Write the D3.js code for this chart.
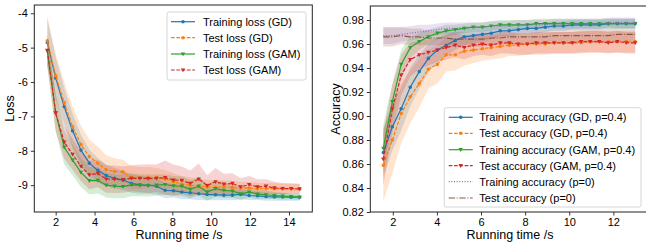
<!DOCTYPE html>
<html>
<head>
<meta charset="utf-8">
<script src="https://cdn.jsdelivr.net/npm/d3@7"></script>
<style>
  body { margin: 0; background: #fff; }
  svg { display: block; font-family: "Liberation Sans", Arial, sans-serif; }
</style>
</head>
<body>
<div id="chart"></div>
<script>
// ---- left panel: loss ----
var lossTime = [1.57, 2.00, 2.44, 2.87, 3.30, 3.73, 4.17, 4.60, 5.03, 5.46, 5.90, 6.33, 6.76, 7.19, 7.63, 8.06,
                8.49, 8.92, 9.36, 9.79, 10.22, 10.65, 11.09, 11.52, 11.95, 12.38, 12.82, 13.25, 13.68, 14.11, 14.55];
var trainLossGD  = [-4.85, -5.88, -6.72, -7.42, -7.98, -8.36, -8.57, -8.72, -8.80, -8.85, -8.95, -8.99, -9.00, -9.03, -9.15, -9.16,
                    -9.20, -9.22, -9.25, -9.27, -9.28, -9.29, -9.29, -9.27, -9.30, -9.31, -9.33, -9.34, -9.34, -9.35, -9.35];
var testLossGD   = [-4.80, -5.82, -6.60, -7.30, -7.82, -8.17, -8.36, -8.55, -8.60, -8.62, -8.78, -8.79, -8.77, -8.78, -8.82, -8.90,
                    -8.97, -9.00, -9.03, -9.05, -9.07, -9.05, -9.07, -9.08, -9.08, -9.10, -9.10, -9.10, -9.10, -9.10, -9.11];
var trainLossGAM = [-5.10, -6.90, -7.90, -8.27, -8.63, -8.87, -8.86, -9.00, -9.03, -9.04, -8.99, -9.00, -9.01, -9.00, -8.98, -9.02,
                    -9.03, -9.12, -9.03, -9.20, -9.10, -9.15, -9.17, -9.25, -9.20, -9.26, -9.28, -9.30, -9.32, -9.33, -9.35];
var testLossGAM  = [-5.08, -6.90, -7.75, -8.10, -8.45, -8.70, -8.66, -8.82, -8.83, -8.84, -8.80, -8.80, -8.81, -8.80, -8.78, -8.85,
                    -8.86, -8.95, -8.82, -9.01, -8.90, -8.97, -8.95, -9.05, -8.98, -9.05, -9.03, -9.08, -9.10, -9.10, -9.11];
var trainLossGDStd  = [0.70, 0.60, 0.55, 0.50, 0.45, 0.40, 0.35, 0.32, 0.30, 0.28, 0.27, 0.26, 0.25, 0.24, 0.22, 0.20,
                       0.20, 0.19, 0.18, 0.17, 0.16, 0.15, 0.15, 0.14, 0.13, 0.12, 0.12, 0.11, 0.11, 0.10, 0.10];
var testLossGDStd   = [0.70, 0.65, 0.60, 0.58, 0.55, 0.50, 0.48, 0.42, 0.38, 0.36, 0.34, 0.32, 0.30, 0.28, 0.26, 0.25,
                       0.24, 0.23, 0.22, 0.21, 0.20, 0.20, 0.19, 0.18, 0.17, 0.17, 0.16, 0.16, 0.15, 0.15, 0.15];
var trainLossGAMStd = [0.45, 0.55, 0.50, 0.45, 0.42, 0.40, 0.38, 0.36, 0.35, 0.34, 0.33, 0.32, 0.32, 0.31, 0.30, 0.29,
                       0.28, 0.27, 0.26, 0.25, 0.24, 0.22, 0.20, 0.18, 0.16, 0.14, 0.12, 0.10, 0.10, 0.08, 0.08];
var testLossGAMStd  = [0.45, 0.50, 0.48, 0.45, 0.43, 0.42, 0.40, 0.40, 0.40, 0.38, 0.38, 0.40, 0.42, 0.40, 0.50, 0.45,
                       0.40, 0.38, 0.45, 0.30, 0.40, 0.30, 0.30, 0.25, 0.25, 0.22, 0.20, 0.18, 0.16, 0.15, 0.15];
var lossYTicks = [-4, -5, -6, -7, -8, -9];
var lossXTicks = [2, 4, 6, 8, 10, 12, 14];

// ---- right panel: accuracy ----
var accTime = [1.57, 1.98, 2.38, 2.79, 3.20, 3.61, 4.02, 4.42, 4.83, 5.24, 5.65, 6.06, 6.46, 6.87, 7.28, 7.69,
               8.10, 8.50, 8.91, 9.32, 9.73, 10.14, 10.54, 10.95, 11.36, 11.77, 12.18, 12.58, 12.99];
var trainAccGD  = [0.8695, 0.891, 0.906, 0.924, 0.937, 0.948, 0.955, 0.959, 0.963, 0.966, 0.967, 0.968, 0.969, 0.971, 0.971, 0.972,
                   0.973, 0.973, 0.974, 0.975, 0.975, 0.976, 0.976, 0.976, 0.976, 0.977, 0.977, 0.977, 0.977];
var testAccGD   = [0.859, 0.880, 0.902, 0.916, 0.927, 0.939, 0.943, 0.951, 0.951, 0.954, 0.955, 0.956, 0.957, 0.958, 0.959, 0.959,
                   0.960, 0.960, 0.960, 0.961, 0.961, 0.961, 0.961, 0.962, 0.962, 0.962, 0.962, 0.962, 0.962];
var trainAccGAM = [0.873, 0.912, 0.943, 0.957, 0.962, 0.966, 0.969, 0.971, 0.972, 0.973, 0.974, 0.974, 0.975, 0.976, 0.976, 0.976,
                   0.976, 0.977, 0.977, 0.977, 0.977, 0.977, 0.977, 0.977, 0.977, 0.977, 0.977, 0.977, 0.977];
var testAccGAM  = [0.864, 0.906, 0.934, 0.947, 0.951, 0.953, 0.955, 0.957, 0.959, 0.957, 0.959, 0.960, 0.959, 0.961, 0.961, 0.960,
                   0.960, 0.961, 0.961, 0.961, 0.961, 0.961, 0.962, 0.962, 0.962, 0.961, 0.962, 0.961, 0.961];
var trainAccP0  = [0.967, 0.967, 0.968, 0.969, 0.970, 0.971, 0.972, 0.973, 0.973, 0.974, 0.974, 0.974, 0.975, 0.975, 0.975, 0.976,
                   0.976, 0.976, 0.976, 0.977, 0.977, 0.977, 0.977, 0.977, 0.977, 0.978, 0.978, 0.978, 0.978];
var testAccP0   = [0.966, 0.966, 0.967, 0.966, 0.966, 0.965, 0.965, 0.965, 0.964, 0.964, 0.964, 0.964, 0.965, 0.965, 0.966, 0.966,
                   0.966, 0.966, 0.966, 0.967, 0.967, 0.967, 0.967, 0.967, 0.967, 0.967, 0.968, 0.968, 0.968];
var trainAccGDStd  = [0.020, 0.020, 0.018, 0.016, 0.014, 0.012, 0.010, 0.009, 0.008, 0.007, 0.006, 0.006, 0.005, 0.005, 0.005, 0.004,
                      0.004, 0.004, 0.004, 0.004, 0.004, 0.004, 0.004, 0.004, 0.004, 0.004, 0.004, 0.004, 0.004];
var testAccGDStd   = [0.030, 0.028, 0.025, 0.022, 0.020, 0.016, 0.016, 0.014, 0.013, 0.012, 0.011, 0.010, 0.010, 0.010, 0.009, 0.009,
                      0.009, 0.009, 0.009, 0.009, 0.009, 0.009, 0.009, 0.009, 0.009, 0.009, 0.009, 0.009, 0.009];
var trainAccGAMStd = [0.020, 0.015, 0.012, 0.009, 0.007, 0.006, 0.005, 0.005, 0.004, 0.004, 0.004, 0.004, 0.004, 0.004, 0.004, 0.004,
                      0.004, 0.004, 0.004, 0.004, 0.004, 0.004, 0.004, 0.004, 0.004, 0.004, 0.004, 0.004, 0.004];
var testAccGAMStd  = [0.022, 0.020, 0.017, 0.014, 0.012, 0.011, 0.010, 0.010, 0.010, 0.010, 0.009, 0.009, 0.009, 0.009, 0.009, 0.009,
                      0.009, 0.009, 0.009, 0.009, 0.009, 0.009, 0.009, 0.009, 0.009, 0.009, 0.009, 0.009, 0.009];
var trainAccP0Std  = [0.007, 0.007, 0.006, 0.006, 0.006, 0.005, 0.005, 0.005, 0.005, 0.004, 0.004, 0.004, 0.004, 0.004, 0.004, 0.004,
                      0.004, 0.004, 0.004, 0.004, 0.004, 0.004, 0.004, 0.004, 0.004, 0.004, 0.004, 0.004, 0.004];
var testAccP0Std   = [0.008, 0.008, 0.007, 0.007, 0.007, 0.006, 0.006, 0.006, 0.006, 0.006, 0.006, 0.006, 0.006, 0.006, 0.006, 0.006,
                      0.006, 0.006, 0.006, 0.006, 0.006, 0.006, 0.006, 0.006, 0.006, 0.006, 0.006, 0.006, 0.006];
var accYTicks = [0.82, 0.84, 0.86, 0.88, 0.90, 0.92, 0.94, 0.96, 0.98];
var accXTicks = [2, 4, 6, 8, 10, 12];

var blue = "#1f77b4", orange = "#ff7f0e", green = "#2ca02c", red = "#d62728",
    purple = "#9467bd", brown = "#8c564b";
var DASH = "3.7,1.6", DOT = "1,1.65", DASHDOT = "6.4,1.6,1,1.6";

var svg = d3.select("#chart").append("svg")
    .attr("width", 646).attr("height", 242);

var makePanel = function(opt) {
    var x = d3.scaleLinear().domain(opt.xDomain).range([opt.left, opt.right]);
    var y = d3.scaleLinear().domain(opt.yDomain).range([opt.bottom, opt.top]);
    var g = svg.append("g");

    // bands first
    opt.series.forEach(function(s) {
        var area = d3.area()
            .x(function(d, i) { return x(opt.time[i]); })
            .y0(function(d, i) { return y(d - s.std[i]); })
            .y1(function(d, i) { return y(d + s.std[i]); });
        g.append("path").datum(s.values)
            .attr("d", area)
            .attr("fill", s.color).attr("fill-opacity", 0.2);
    });

    opt.series.forEach(function(s) {
        var line = d3.line()
            .x(function(d, i) { return x(opt.time[i]); })
            .y(function(d) { return y(d); });
        g.append("path").datum(s.values)
            .attr("d", line)
            .attr("fill", "none").attr("stroke", s.color).attr("stroke-width", 1.2)
            .attr("stroke-dasharray", s.dash || null);
        if (s.marker) {
            g.selectAll(null).data(s.values).enter()
              .append("path")
                .attr("transform", function(d, i) { return "translate(" + x(opt.time[i]) + "," + y(d) + ")"; })
                .attr("d", markerPath(s.marker))
                .attr("fill", s.color);
        }
    });

    // axes
    var xAxis = g.append("g")
        .attr("transform", "translate(0," + opt.bottom + ")")
        .call(d3.axisBottom(x).tickValues(opt.xTicks).tickSizeOuter(0).tickSize(3.5).tickPadding(3));
    var yAxis = g.append("g")
        .attr("transform", "translate(" + opt.left + ",0)")
        .call(d3.axisLeft(y).tickValues(opt.yTicks).tickFormat(opt.yFormat).tickSizeOuter(0).tickSize(3.5).tickPadding(3));
    [xAxis, yAxis].forEach(function(a) {
        a.select(".domain").remove();
        a.selectAll("text").attr("font-size", 11).attr("fill", "#000")
            .attr("font-family", "Liberation Sans, Arial, sans-serif");
        a.selectAll("line").attr("stroke", "#000").attr("stroke-width", 0.8);
    });

    g.append("rect")
        .attr("x", opt.left).attr("y", opt.top)
        .attr("width", opt.right - opt.left).attr("height", opt.bottom - opt.top)
        .attr("fill", "none").attr("stroke", "#222").attr("stroke-width", 1);

    g.append("text")
        .attr("x", opt.xLabelX).attr("y", 239)
        .attr("text-anchor", "middle").attr("font-size", 12.5)
        .text("Running time /s");
    g.append("text")
        .attr("transform", "translate(" + opt.yLabelX + "," + ((opt.top + opt.bottom) / 2) + ") rotate(-90)")
        .attr("text-anchor", "middle").attr("font-size", 12.5)
        .text(opt.yLabel);

    // legend
    var L = opt.legend;
    var lg = g.append("g");
    lg.append("rect")
        .attr("x", L.x0).attr("y", L.y0)
        .attr("width", L.x1 - L.x0).attr("height", L.y1 - L.y0)
        .attr("rx", 2)
        .attr("fill", "#fff").attr("fill-opacity", 0.8)
        .attr("stroke", "#ccc").attr("stroke-width", 0.8);
    opt.series.forEach(function(s, i) {
        var yy = L.rowY[i];
        lg.append("line")
            .attr("x1", L.hx0).attr("x2", L.hx1).attr("y1", yy).attr("y2", yy)
            .attr("stroke", s.color).attr("stroke-width", 1.2)
            .attr("stroke-dasharray", s.dash || null);
        if (s.marker) {
            lg.append("path")
                .attr("transform", "translate(" + ((L.hx0 + L.hx1) / 2) + "," + yy + ")")
                .attr("d", markerPath(s.marker))
                .attr("fill", s.color);
        }
        lg.append("text")
            .attr("x", L.tx).attr("y", yy + 4)
            .attr("font-size", 11)
            .text(s.label);
    });
};

function markerPath(type) {
    if (type === "v") return "M-2.2,-1.6L2.2,-1.6L0,2.2Z";
    return d3.symbol(d3.symbolCircle, 10)();
}

makePanel({
    left: 34.3, right: 312.3, top: 5, bottom: 212,
    xDomain: [0.9, 15.2], yDomain: [-9.78, -3.76],
    xTicks: lossXTicks, yTicks: lossYTicks,
    yFormat: function(d) { return String(d); },
    time: lossTime,
    xLabelX: 179, yLabelX: 14, yLabel: "Loss",
    series: [
        { label: "Training loss (GD)",  values: trainLossGD,  std: trainLossGDStd,  color: blue,   marker: "o" },
        { label: "Test loss (GD)",      values: testLossGD,   std: testLossGDStd,   color: orange, marker: "o", dash: DASH },
        { label: "Training loss (GAM)", values: trainLossGAM, std: trainLossGAMStd, color: green,  marker: "v" },
        { label: "Test loss (GAM)",     values: testLossGAM,  std: testLossGAMStd,  color: red,    marker: "v", dash: DASH }
    ],
    legend: { x0: 167, x1: 306, y0: 12, y1: 80, rowY: [21.7, 37.7, 54, 70], hx0: 171, hx1: 195, tx: 203 }
});

makePanel({
    left: 370.3, right: 648, top: 6, bottom: 212,
    xDomain: [0.98, 13.57], yDomain: [0.82, 0.99167],
    xTicks: accXTicks, yTicks: accYTicks,
    yFormat: d3.format(".2f"),
    time: accTime,
    xLabelX: 510, yLabelX: 340, yLabel: "Accuracy",
    series: [
        { label: "Training accuracy (GD, p=0.4)",  values: trainAccGD,  std: trainAccGDStd,  color: blue,   marker: "o" },
        { label: "Test accuracy (GD, p=0.4)",      values: testAccGD,   std: testAccGDStd,   color: orange, marker: "o", dash: DASH },
        { label: "Training accuracy (GAM, p=0.4)", values: trainAccGAM, std: trainAccGAMStd, color: green,  marker: "v" },
        { label: "Test accuracy (GAM, p=0.4)",     values: testAccGAM,  std: testAccGAMStd,  color: red,    marker: "v", dash: DASH },
        { label: "Training accuracy (p=0)",        values: trainAccP0,  std: trainAccP0Std,  color: purple, dash: DOT },
        { label: "Test accuracy (p=0)",            values: testAccP0,   std: testAccP0Std,   color: brown,  dash: DASHDOT }
    ],
    legend: { x0: 444.3, x1: 641, y0: 107.7, y1: 207, rowY: [117.3, 133.3, 149.7, 165.7, 181.7, 198], hx0: 448.7, hx1: 472.7, tx: 479.3 }
});
</script>
</body>
</html>
